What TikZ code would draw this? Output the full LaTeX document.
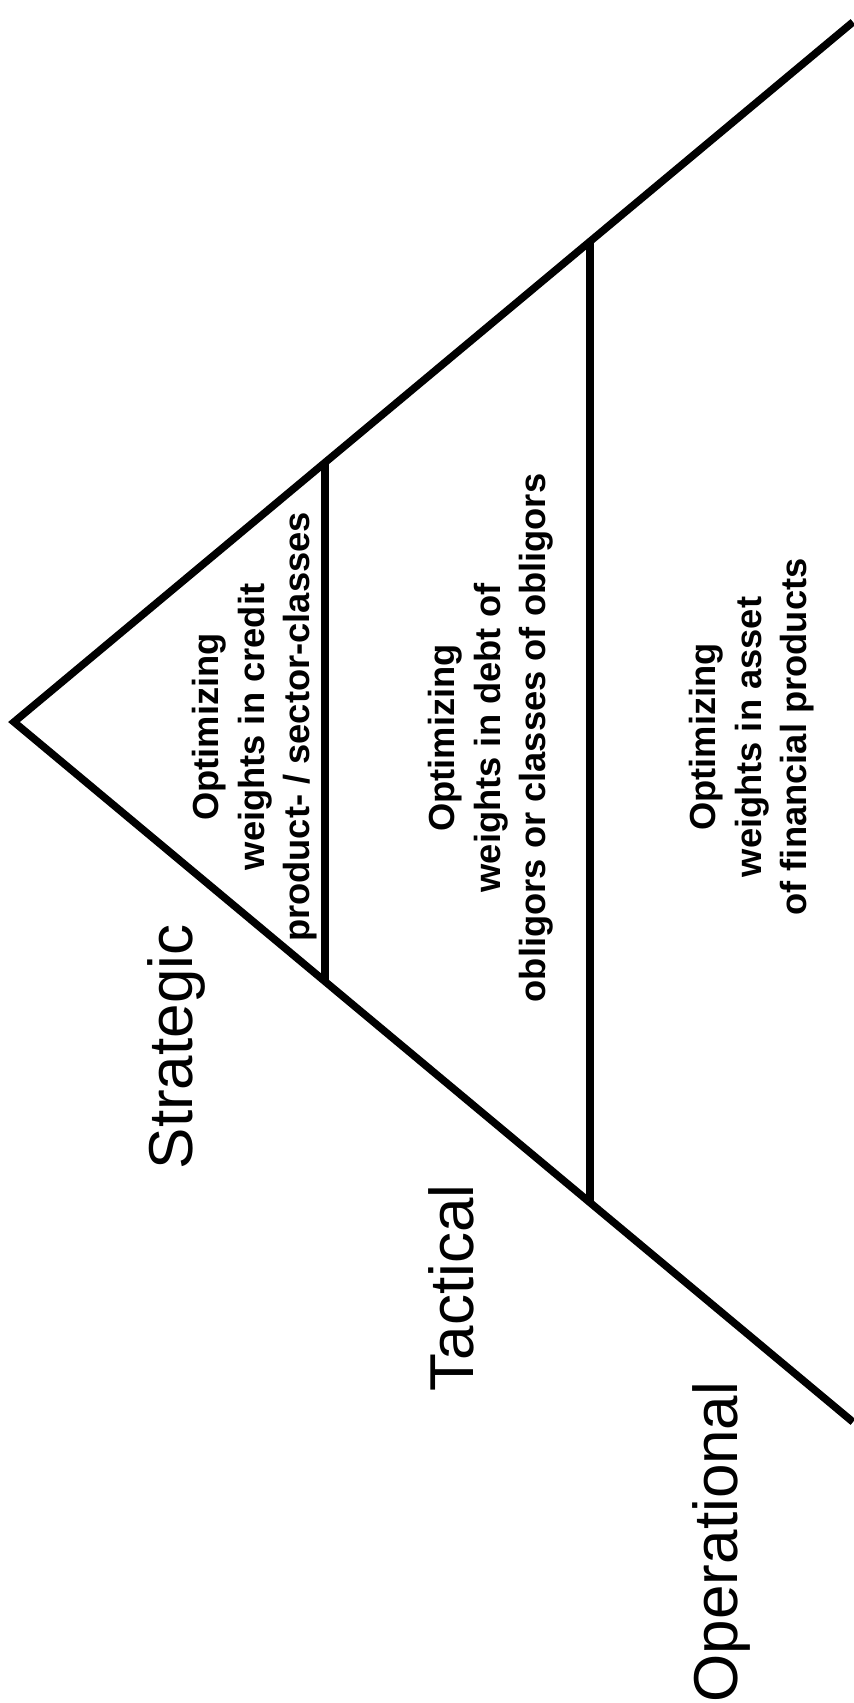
\documentclass[tikz,border=0pt]{standalone}
\usepackage{fontspec}
\setmainfont{Liberation Sans}
\usetikzlibrary{calc}
\tikzset{
  edge/.style={line width=7.5bp, line join=miter, black},
  level/.style={rotate=90, inner sep=0pt, font=\fontsize{62bp}{70bp}\selectfont},
  task/.style={rotate=90, inner sep=0pt, align=center, font=\fontsize{36.3bp}{45.5bp}\selectfont\bfseries},
}
\begin{document}
\begin{tikzpicture}[x=1bp,y=-1bp]
\useasboundingbox (0,0) rectangle (853,1703);
\coordinate (apex) at (14,722);
\coordinate (topend) at (853,22);
\coordinate (botend) at (853,1422);
\coordinate (t1) at ($(apex)!0.3707!(topend)$);
\coordinate (b1) at ($(apex)!0.3707!(botend)$);
\coordinate (t2) at ($(apex)!0.6865!(topend)$);
\coordinate (b2) at ($(apex)!0.6865!(botend)$);
\draw[edge] (topend) -- (apex) -- (botend);
\draw[edge] (t1) -- (b1);
\draw[edge] (t2) -- (b2);
\node[task] (strattask) at (255,727) {Optimizing\\weights in credit\\product- / sector-classes};
\node[task] (tacttask) at (491,738) {Optimizing\\weights in debt of\\obligors or classes of obligors};
\node[task] (opertask) at (752,737) {Optimizing\\weights in asset\\of financial products};
\node[level] (strat) at (176,1047) {Strategic};
\node[level] (tact) at (451,1288) {Tactical};
\node[level] (oper) at (721,1542) {Operational};
\end{tikzpicture}
\end{document}
